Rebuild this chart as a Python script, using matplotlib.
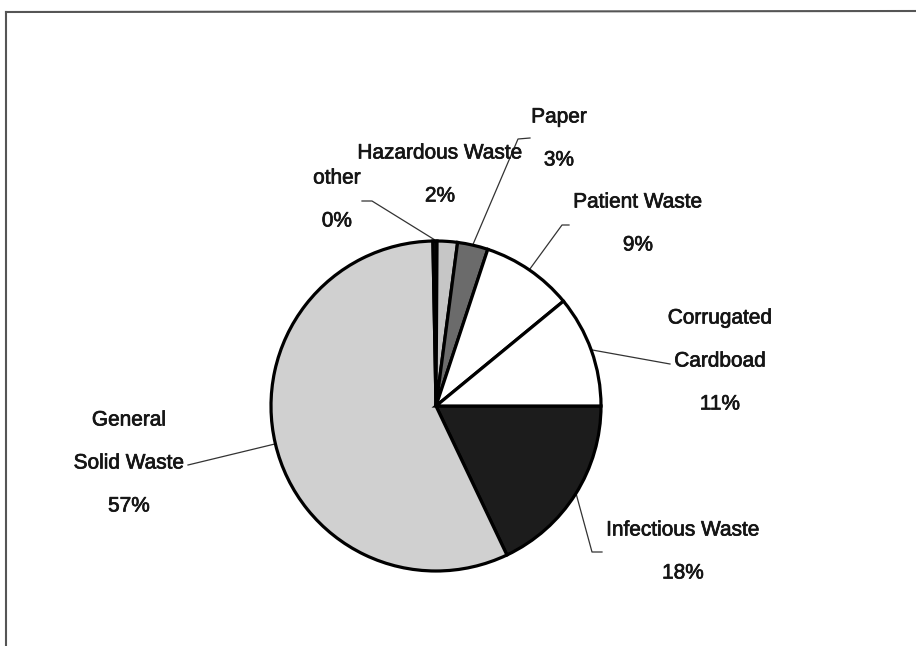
import numpy as np
import matplotlib
matplotlib.use("Agg")
import matplotlib.pyplot as plt
import matplotlib.patheffects as pe
from matplotlib.lines import Line2D

plt.rcParams['font.family'] = ['Liberation Sans', 'DejaVu Sans']

# Waste composition (percent)
categories = ["Infectious Waste", "General\nSolid Waste", "other", "Hazardous Waste",
              "Paper", "Patient Waste", "Corrugated\nCardboad"]
values = [18, 57, 0.4, 2, 3, 9, 11]
pct_labels = ["18%", "57%", "0%", "2%", "3%", "9%", "11%"]
colors = ["#1c1c1c", "#d0d0d0", "#111111", "#c6c6c6", "#6b6b6b", "#ffffff", "#ffffff"]

W, H = 916, 646


def px(x, y):
    # image pixel coords (y down) -> data coords (y up)
    return x, H - y


# label layout: first-line centre in image px, and leader elbow points
label_pos = [(683, 530), (129, 420), (337, 178), (440, 153), (559, 117), (638, 202), (720, 318)]
leader_pts = [
    [(592, 552), (602, 552)],
    [(188, 465)],
    [(372, 201), (362, 201)],
    [],
    [(518, 139), (530, 138)],
    [(562, 225), (569, 225)],
    [(670, 364)],
]
line_step = 43

fig = plt.figure(figsize=(W / 100, H / 100), dpi=100)
ax = fig.add_axes([0, 0, 1, 1])

cx, cy = px(436, 406)
r = 165
wedges, _ = ax.pie(values, colors=colors, startangle=0, counterclock=False,
                   center=(cx, cy), radius=r, frame=True,
                   wedgeprops=dict(edgecolor='black', linewidth=2.3))
ax.set_xlim(0, W)
ax.set_ylim(0, H)
ax.set_aspect('equal')
ax.axis('off')

for i, w in enumerate(wedges):
    mid = np.deg2rad((w.theta1 + w.theta2) / 2)
    start = (cx + (r + 1) * np.cos(mid), cy + (r + 1) * np.sin(mid))
    pts = [start] + [px(*p) for p in leader_pts[i]]
    if len(pts) > 1:
        xs, ys = zip(*pts)
        ax.plot(xs, ys, color='#333333', lw=0.9, zorder=0)

    lines = categories[i].split("\n") + [pct_labels[i]]
    lx, ly = label_pos[i]
    for k, t in enumerate(lines):
        x, y = px(lx, ly + k * line_step)
        ax.text(x, y, t, ha='center', va='center', fontsize=15, color='#151515',
                path_effects=[pe.withStroke(linewidth=0.5, foreground='#151515')])

# scanned frame edges
fig.add_artist(Line2D([6 / W, 6 / W], [0, 1 - 12 / H], color='#555555', lw=1.5))
fig.add_artist(Line2D([6 / W, 1], [1 - 12 / H, 1 - 11 / H], color='#555555', lw=1.5))

fig.savefig("out.png", dpi=100, facecolor='white')
